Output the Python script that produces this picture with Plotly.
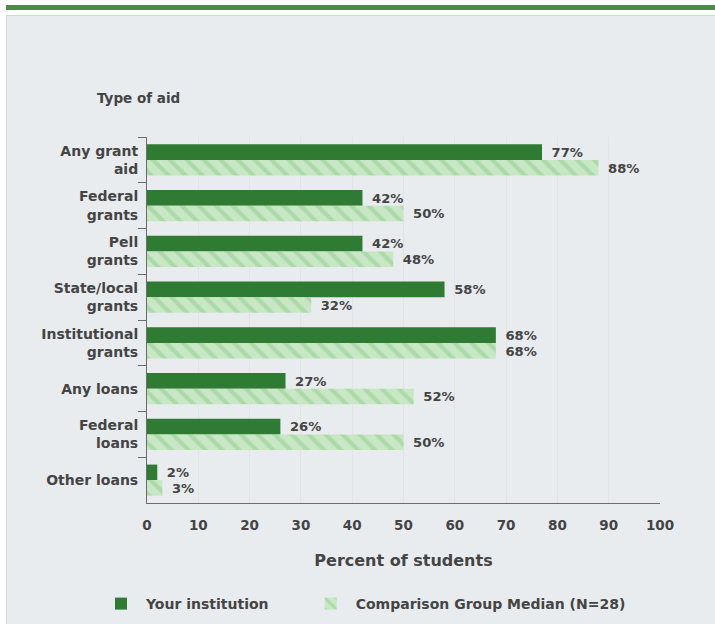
import plotly.graph_objects as go

categories = ["Any grant<br>aid", "Federal<br>grants", "Pell<br>grants", "State/local<br>grants",
              "Institutional<br>grants", "Any loans", "Federal<br>loans", "Other loans"]
your_institution = [77, 42, 42, 58, 68, 27, 26, 2]
comparison_median = [88, 50, 48, 32, 68, 52, 50, 3]
x_ticks = [0, 10, 20, 30, 40, 50, 60, 70, 80, 90, 100]

FONT = "DejaVu Sans, sans-serif"
DARK = "#2f7b33"
LIGHT = "#c7e7c5"
HATCH = "#8fcd8c"
TXT = "#444444"

fig = go.Figure()
fig.add_trace(go.Bar(
    y=categories, x=your_institution, orientation="h",
    name="<b>Your institution</b>" + "\u00a0" * 7,
    marker=dict(color=DARK, line=dict(width=0)),
    text=[f"\u2002<b>{v}%</b>" for v in your_institution], textposition="outside",
    textfont=dict(size=13.5, color=TXT, family=FONT), cliponaxis=False,
))
fig.add_trace(go.Bar(
    y=categories, x=comparison_median, orientation="h", name="<b>Comparison Group Median (N=28)</b>",
    marker=dict(color=LIGHT, line=dict(width=0),
                pattern=dict(shape="\\", bgcolor=LIGHT, fgcolor=HATCH, size=12, solidity=0.35)),
    text=[f"\u2002<b>{v}%</b>" for v in comparison_median], textposition="outside",
    textfont=dict(size=13.5, color=TXT, family=FONT), cliponaxis=False,
))

# plot-area geometry in pixels (for background panel shapes)
L, R, T, B = 147, 55, 137, 121
W, H = 715, 624
pw, ph = W - L - R, H - T - B
def px_x(x): return (x - L) / pw
def px_y(y): return (H - B - y) / ph

fig.add_shape(type="rect", xref="paper", yref="paper", layer="below",
              x0=px_x(6.5), x1=px_x(W + 5), y0=px_y(H + 5), y1=px_y(15.5),
              fillcolor="#e9ecef", line=dict(color="#d4d7da", width=1))
fig.add_shape(type="rect", xref="paper", yref="paper", layer="below",
              x0=px_x(6), x1=px_x(W + 5), y0=px_y(10), y1=px_y(5),
              fillcolor="#4f8a4d", line=dict(width=0))

fig.add_annotation(text="<b>Type of aid</b>", xref="paper", yref="paper",
                   x=px_x(95), y=px_y(98), xanchor="left", yanchor="middle",
                   showarrow=False, font=dict(size=13.5, color=TXT, family=FONT))

fig.update_layout(
    width=W, height=H,
    margin=dict(l=L, r=R, t=T, b=B, autoexpand=False),
    paper_bgcolor="white", plot_bgcolor="#f5f5f5",
    barmode="group", bargap=0.32, bargroupgap=0,
    font=dict(family=FONT, size=14, color=TXT),
    showlegend=True,
    legend=dict(orientation="h", x=px_x(96), xanchor="left", y=px_y(604), yanchor="middle",
                font=dict(size=14, color=TXT, family=FONT), itemwidth=40,
                bgcolor="rgba(0,0,0,0)"),
    xaxis=dict(range=[0, 100], tickvals=x_ticks, showgrid=True, gridcolor="#e3e3e3",
               gridwidth=1, zeroline=False, showline=True, linecolor="#6b6b6b", linewidth=1,
               ticks="", ticklabelstandoff=10, automargin=False,
               tickfont=dict(size=13.5, color=TXT, family=FONT, weight="bold"),
               title=dict(text="<b>Percent of students</b>", standoff=22,
                          font=dict(size=16, color=TXT, family=FONT))),
    yaxis=dict(autorange="reversed", showline=True, linecolor="#6b6b6b", linewidth=1,
               ticks="outside", tickson="boundaries", ticklen=8, tickcolor="#6b6b6b",
               ticklabelstandoff=5, showgrid=False, automargin=False,
               tickfont=dict(size=14, color=TXT, family=FONT, weight="bold")),
)

fig.write_html("out.html", config={"displayModeBar": False},
               post_script="document.body.style.margin='0';")
